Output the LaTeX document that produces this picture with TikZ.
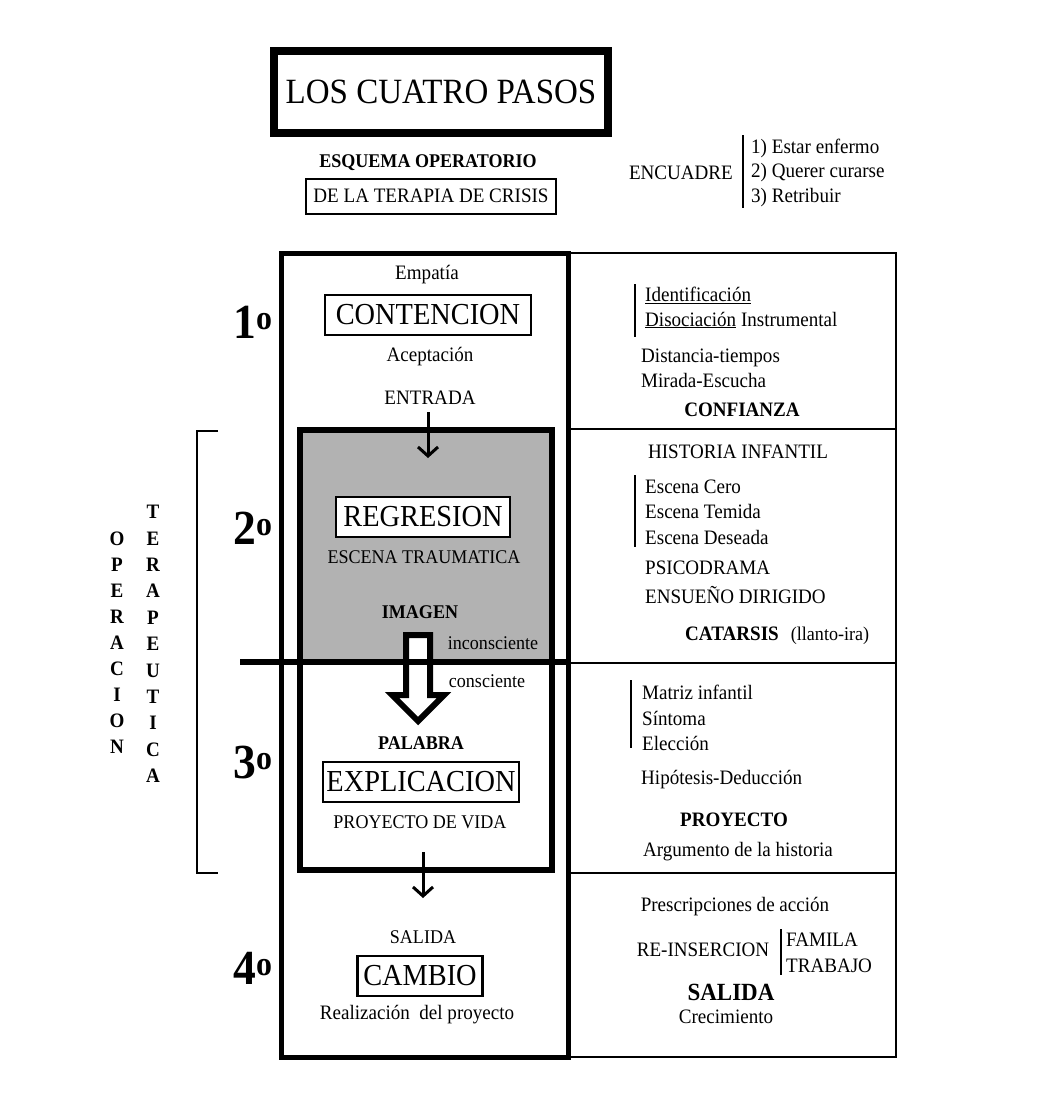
\documentclass[tikz,border=0pt]{standalone}
\usepackage{fontspec}
\setmainfont{Liberation Serif}[FakeStretch=0.93]
\usetikzlibrary{arrows.meta}
\newcommand\fsz[1]{\fontsize{#1}{#1}\selectfont}

\tikzset{
  lbl/.style={inner sep=0pt, font=\fsz{20.5}},
  lblw/.style={lbl, anchor=west},
  smlbl/.style={inner sep=0pt, font=\fsz{19.4}},
  bflbl/.style={inner sep=0pt, font=\bfseries\fsz{20.5}},
  stepbox/.style={draw, fill=white, line width=2.5pt, font=\fsz{30.5}, minimum height=40pt},
  num/.style={inner sep=0pt, font=\bfseries\fsz{49}},
  vlet/.style={inner sep=0pt, font=\bfseries\fsz{20.5}},
  arr/.style={line width=3pt, -{Straight Barb[length=9pt,width=20pt]}},
  thinline/.style={line width=1.6pt},
}

\begin{document}
\begin{tikzpicture}[x=1pt, y=-1pt]
\useasboundingbox (0,0) rectangle (1063,1095);

% titulo y encuadre
\node[draw, line width=8pt, minimum width=334pt, minimum height=82pt, font=\fsz{35.5}]
  (titulo) at (441,92) {LOS CUATRO PASOS};
\node[bflbl, font=\bfseries\fsz{19.4}] (esquema) at (428,163) {ESQUEMA OPERATORIO};
\node[draw, line width=2pt, minimum width=250pt, minimum height=35pt, inner sep=0pt, font=\fsz{20.5}]
  (terapia) at (431,196) {DE LA TERAPIA DE CRISIS};
\node[lbl, anchor=east] (encuadre) at (733,173) {ENCUADRE};
\node[lblw] (enf1) at (751,148) {1) Estar enfermo};
\node[lblw] (enf2) at (751,173) {2) Querer curarse};
\node[lblw] (enf3) at (751,198) {3) Retribuir};
\draw[thinline] (743,135) -- (743,208);

% marco
\fill[black!30] (300,430) rectangle (552,662);
\draw[line width=5pt] (281,253) rectangle (568,1057);
\draw[thinline] (568,253) -- (896,253) -- (896,1057) -- (568,1057);
\foreach \y in {429,663,873}
  \draw[thinline] (568,\y) -- (896,\y);
\draw[line width=6pt] (300,430) rectangle (552,870);

% operacion terapeutica
\draw[thinline] (218,431) -- (197,431) -- (197,873) -- (218,873);
\foreach \l [count=\i] in {O,P,E,R,A,C,I,O,N}
  \node[vlet] (op\i) at (117,{539+26*(\i-1)}) {\l};
\foreach \l [count=\i] in {T,E,R,A,P,E,U,T,I,C,A}
  \node[vlet] (te\i) at (153,{512+26.4*(\i-1)}) {\l};

\node[num] (paso1) at (253,322) {1\textsuperscript{o}};
\node[num] (paso2) at (253,528) {2\textsuperscript{o}};
\node[num] (paso3) at (253,763) {3\textsuperscript{o}};
\node[num] (paso4) at (253,968) {4\textsuperscript{o}};

% columna izquierda
\node[lbl] (empatia) at (427,275) {Empatía};
\node[stepbox, minimum width=206pt] (contencion) at (428,315) {CONTENCION};
\node[lbl] (aceptacion) at (430,357) {Aceptación};
\node[lbl] (entrada) at (430,398) {ENTRADA};
\coordinate (entra0) at (428,412);
\coordinate (entra) at (428,458);
\draw[arr] (entra0) -- (entra);

\node[stepbox, minimum width=174pt] (regresion) at (423,517) {REGRESION};
\node[smlbl] (traumatica) at (424,557) {ESCENA TRAUMATICA};
\node[bflbl, font=\bfseries\fsz{19.4}] (imagen) at (420,612) {IMAGEN};
\draw[line width=6pt, fill=white, line join=miter]
  (406,635) -- (430,635) -- (430,695) -- (444,695) -- (418,721)
  -- (392,695) -- (406,695) -- cycle;
\draw[line width=6pt] (240,662) -- (570,662);
\node[smlbl] (incons) at (493,643) {inconsciente};
\node[smlbl] (cons) at (487,681) {consciente};

\node[bflbl, font=\bfseries\fsz{19.4}] (palabra) at (421,743) {PALABRA};
\node[stepbox, minimum width=193pt] (explicacion) at (421,782) {EXPLICACION};
\node[smlbl] (proyvida) at (420,822) {PROYECTO DE VIDA};
\coordinate (sale1) at (423,852);
\coordinate (sale2) at (423,898);
\draw[arr] (sale1) -- (sale2);

\node[smlbl] (salida) at (423,937) {SALIDA};
\node[stepbox, minimum width=125pt] (cambio) at (420,976) {CAMBIO};
\node[lbl] (realizacion) at (417,1015) {Realización\ \ del proyecto};

% columna derecha
\node[lblw] (ident) at (645,295) {\underline{Identificación}};
\node[lblw] (disoc) at (645,320) {\underline{Disociación} Instrumental};
\draw[thinline] (635,284) -- (635,337);
\node[lblw] (distancia) at (641,358) {Distancia-tiempos};
\node[lblw] (mirada) at (641,380) {Mirada-Escucha};
\node[bflbl] (confianza) at (742,410) {CONFIANZA};

\node[lbl] (historia) at (738,452) {HISTORIA INFANTIL};
\node[lblw] (cero) at (645,487) {Escena Cero};
\node[lblw] (temida) at (645,511) {Escena Temida};
\node[lblw] (deseada) at (645,537) {Escena Deseada};
\draw[thinline] (635,475) -- (635,547);
\node[lblw] (psico) at (645,568) {PSICODRAMA};
\node[lblw] (ensueno) at (645,595) {ENSUEÑO DIRIGIDO};
\node[bflbl, anchor=base] (catarsis) at (732,640) {CATARSIS};
\node[smlbl, anchor=base] (llanto) at (830,640) {(llanto-ira)};

\node[lblw] (matriz) at (642,692) {Matriz infantil};
\node[lblw] (sintoma) at (642,718) {Síntoma};
\node[lblw] (eleccion) at (642,743) {Elección};
\draw[thinline] (631,680) -- (631,748);
\node[lblw] (hipotesis) at (641,780) {Hipótesis-Deducción};
\node[bflbl] (proyecto) at (734,820) {PROYECTO};
\node[lbl] (argumento) at (738,852) {Argumento de la historia};

\node[lbl] (prescrip) at (735,907) {Prescripciones de acción};
\node[lbl] (reinsercion) at (703,950) {RE-INSERCION};
\draw[thinline] (781,929) -- (781,975);
\node[lblw] (famila) at (786,940) {FAMILA};
\node[lblw] (trabajo) at (786,966) {TRABAJO};
\node[bflbl, font=\bfseries\fsz{24.7}] (salida2) at (731,992) {SALIDA};
\node[lbl] (crecimiento) at (726,1017) {Crecimiento};
\end{tikzpicture}
\end{document}
